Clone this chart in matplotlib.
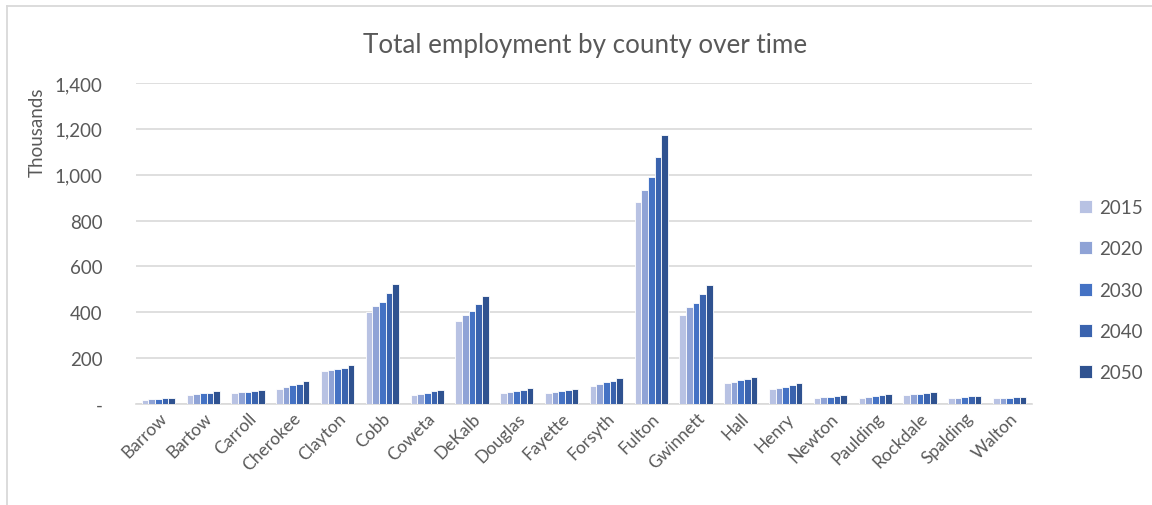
import numpy as np
import matplotlib
matplotlib.use('Agg')
import matplotlib.pyplot as plt
from matplotlib.lines import Line2D
from matplotlib.ticker import FuncFormatter

# Data (thousands of jobs)
counties = ['Barrow', 'Bartow', 'Carroll', 'Cherokee', 'Clayton', 'Cobb', 'Coweta',
            'DeKalb', 'Douglas', 'Fayette', 'Forsyth', 'Fulton', 'Gwinnett', 'Hall',
            'Henry', 'Newton', 'Paulding', 'Rockdale', 'Spalding', 'Walton']
years = ['2015', '2020', '2030', '2040', '2050']
emp_2015 = [18, 40, 49, 66, 144, 400, 41, 362, 49, 50, 79, 879, 387, 90, 65, 28, 28, 40, 25, 24]
emp_2020 = [21, 43, 51, 75, 150, 429, 45, 386, 54, 53, 89, 933, 422, 97, 71, 31, 32, 43, 28, 26]
emp_2030 = [22, 47, 54, 82, 153, 447, 49, 404, 56, 57, 96, 988, 442, 103, 76, 32, 35, 44, 31, 28]
emp_2040 = [25, 49, 57, 88, 159, 482, 55, 434, 62, 62, 101, 1076, 479, 110, 84, 35, 38, 46, 34, 29]
emp_2050 = [27, 56, 62, 100, 168, 522, 61, 470, 68, 66, 115, 1173, 521, 119, 93, 40, 43, 51, 35, 32]

series = [emp_2015, emp_2020, emp_2030, emp_2040, emp_2050]
colors = ['#B8C2E3', '#8FA3D6', '#4472C4', '#3A63AE', '#2F5290']

plt.rcParams['font.family'] = ['Lato', 'DejaVu Sans']
text_col = '#595959'
grid_col = '#D9D9D9'

fig = plt.figure(figsize=(11.52, 5.06), dpi=100)
ax = fig.add_axes([136 / 1152, 1 - 405 / 506, 896 / 1152, 321 / 506])

x = np.arange(len(counties))
n = len(series)
width = 0.148
for i, (vals, c) in enumerate(zip(series, colors)):
    ax.bar(x + (i - (n - 1) / 2) * width, vals, width, color=c,
           edgecolor='white', linewidth=0.6, label=years[i], zorder=3)

ax.set_xlim(-0.5, len(counties) - 0.5)
ax.set_ylim(0, 1400)
ax.set_yticks(np.arange(0, 1401, 200))
ax.yaxis.set_major_formatter(FuncFormatter(lambda v, p: '-' if v == 0 else f'{int(v):,}'))
ax.grid(axis='y', color=grid_col, linewidth=1.2, zorder=0)
for s in ['top', 'right', 'left']:
    ax.spines[s].set_visible(False)
ax.spines['bottom'].set_color(grid_col)
ax.spines['bottom'].set_linewidth(1.2)
ax.tick_params(axis='y', length=0, pad=24, labelsize=13.5, labelcolor=text_col)
ax.tick_params(axis='x', length=0, pad=4, labelsize=12.5, labelcolor=text_col)
ax.set_xticks(x)
ax.set_xticklabels(counties, rotation=45, ha='right', rotation_mode='anchor')

fig.text(37 / 1152, 1 - 132 / 506, 'Thousands', rotation=90, ha='center', va='center',
         fontsize=13.5, color=text_col)
fig.text(585 / 1152, 1 - 46 / 506, 'Total employment by county over time', ha='center',
         va='center', fontsize=18.7, color=text_col)

leg = fig.legend(loc='upper left', bbox_to_anchor=(1062 / 1152, 1 - 183 / 506), frameon=False,
                 fontsize=13.5, labelcolor=text_col, handlelength=0.7, handleheight=0.7,
                 labelspacing=1.3, handletextpad=0.4)

# chart border (Excel chart area)
fig.add_artist(Line2D([7 / 1152, 1], [1 - 6.5 / 506] * 2, color=grid_col, linewidth=1.3))
fig.add_artist(Line2D([7 / 1152] * 2, [0, 1 - 6.5 / 506], color=grid_col, linewidth=1.3))

fig.savefig('out.png', dpi=100)
